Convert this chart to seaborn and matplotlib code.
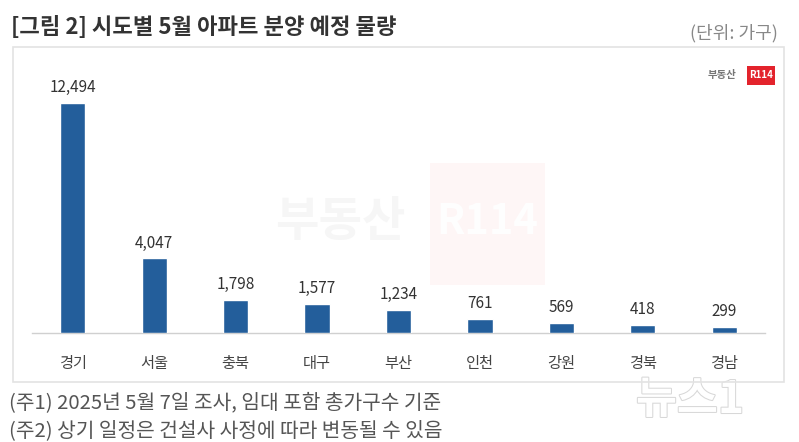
import matplotlib
matplotlib.use("Agg")
import matplotlib.pyplot as plt
import matplotlib.patheffects as pe
import seaborn as sns
import pandas as pd
from matplotlib.patches import Rectangle

# 데이터
regions = ['경기', '서울', '충북', '대구', '부산', '인천', '강원', '경북', '경남']
units = [12494, 4047, 1798, 1577, 1234, 761, 569, 418, 299]

title = '[그림 2] 시도별 5월 아파트 분양 예정 물량'
unit_label = '(단위: 가구)'
notes = ['(주1) 2025년 5월 7일 조사, 임대 포함 총가구수 기준',
         '(주2) 상기 일정은 건설사 사정에 따라 변동될 수 있음']

df = pd.DataFrame({'region': regions, 'units': units})

sns.set_style("white")
plt.rcParams['font.family'] = ['Noto Sans CJK KR', 'DejaVu Sans']

W, H = 799, 442
fig = plt.figure(figsize=(W / 100, H / 100), dpi=100)

# 바깥 박스
fig.patches.append(Rectangle((13 / W, 1 - 382 / H), (784 - 13) / W, (382 - 47) / H,
                             transform=fig.transFigure, fill=False,
                             edgecolor='#e3e3e3', linewidth=1.2))

# 워터마크 (흐리게)
fig.patches.append(Rectangle((430 / W, 1 - 285 / H), 115 / W, 122 / H,
                             transform=fig.transFigure, facecolor='#e8252d',
                             alpha=0.04, edgecolor='none', zorder=0))
fig.text(340 / W, 1 - 222 / H, '부동산', fontsize=34, fontweight='bold',
         color='#e6e6e6', alpha=0.35, ha='center', va='center', zorder=0)
fig.text(487 / W, 1 - 222 / H, 'R114', fontsize=30, fontweight='bold',
         color='white', alpha=0.9, ha='center', va='center', zorder=0)

ax = fig.add_axes([32 / W, 1 - 333 / H, (765 - 32) / W, (333 - 50) / H])
sns.barplot(data=df, x='region', y='units', color='#235E9B', width=0.31,
            saturation=1, ax=ax, zorder=3)

ax.set_ylim(0, 15370)
ax.set_xlim(-0.5, len(regions) - 0.5)
ax.set_xlabel('')
ax.set_ylabel('')
ax.set_yticks([])
for s in ['top', 'right', 'left']:
    ax.spines[s].set_visible(False)
ax.spines['bottom'].set_color('#d0d0d0')
ax.spines['bottom'].set_linewidth(1)
ax.patch.set_alpha(0)

# 카테고리 경계 틱
ax.set_xticks([i - 0.5 for i in range(len(regions) + 1)], minor=True)
ax.tick_params(axis='x', which='minor', length=5, color='#d8d8d8', width=1)
ax.tick_params(axis='x', which='major', length=0, pad=16, labelsize=11, labelcolor='#444444')

for i, v in enumerate(units):
    ax.text(i, v + 380, f'{v:,}', ha='center', va='bottom', fontsize=11, color='#333333')

fig.text(11 / W, 1 - 28 / H, title, fontsize=16, fontweight='bold',
         color='#333333', ha='left', va='center')
fig.text(778 / W, 1 - 33 / H, unit_label, fontsize=13, color='#888888',
         ha='right', va='center')

# 로고
fig.text(736 / W, 1 - 75 / H, '부동산', fontsize=7.5, fontweight='bold', color='#777777',
         ha='right', va='center')
fig.patches.append(Rectangle((747 / W, 1 - 85 / H), 28 / W, 19 / H,
                             transform=fig.transFigure, facecolor='#e3232c', edgecolor='none'))
fig.text(761 / W, 1 - 75.5 / H, 'R114', fontsize=7, fontweight='bold', color='white',
         ha='center', va='center')

for k, note in enumerate(notes):
    fig.text(9 / W, 1 - (403 + 28 * k) / H, note, fontsize=14.6, color='#555555',
             ha='left', va='center')

# 뉴스1 워터마크
fig.text(690 / W, 1 - 400 / H, '뉴스1', fontsize=32, fontweight='bold', fontstyle='italic',
         color='white', ha='center', va='center', zorder=0,
         path_effects=[pe.withStroke(linewidth=1.5, foreground='#d8d8d8')])

fig.savefig('out.png', dpi=100)
